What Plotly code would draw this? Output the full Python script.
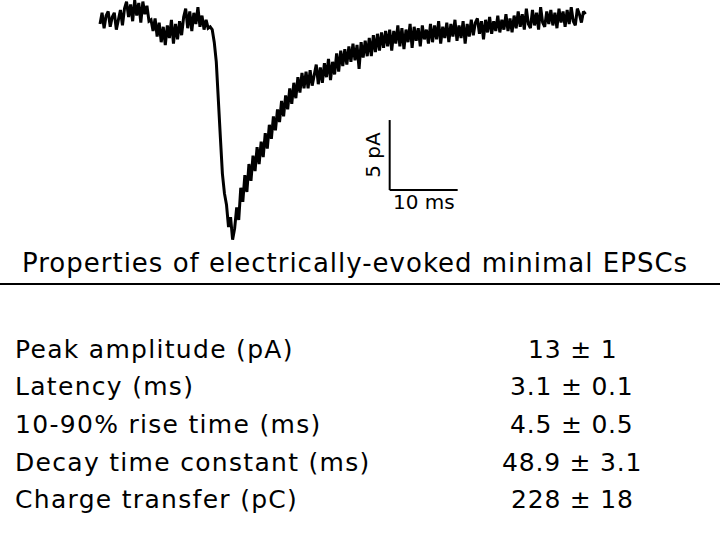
import numpy as np
import plotly.graph_objects as go

# ---------------- data ----------------
DT_MS = 0.3  # sampling interval of the trace (ms)
current_pA = [
    # baseline
    -0.5, 0.3, -0.8, 0.1, 0.4, -0.7, 0.0, 0.3,
    -0.9, -0.1, 0.5, -0.6, 0.6,
    1.1, 0.0, 0.9, -0.3, 1.2, 0.1, 1.0, -0.4, 1.1, 0.2, 0.8, -0.3,
    -0.2, -1.0, -0.1, -1.4, -0.4, -1.8, -0.7, -2.0, -0.6, -1.5, -0.2, -1.9, -0.5, -1.6, -0.3, -1.3,
    0.0, 0.6, -0.8, 0.4, -1.0, 0.3, -0.5, 0.7, -0.7, 0.1, -0.9, -0.2, -0.8, -0.7,
    # onset and peak
    -0.9, -1.8, -3.2, -5.5, -8.6, -11.2, -12.6, -13.4, -15.0, -14.3, -15.9, -15.1,
    -13.6, -14.5, -12.2, -13.2, -11.3, -12.5, -10.5, -11.7, -9.9, -11.0,
    -9.3, -10.5, -8.9, -10.0, -8.3, -9.4, -7.7, -8.7, -7.1, -8.1,
    -6.6, -7.5, -6.0, -7.1, -5.6, -6.6, -5.1, -6.2, -4.7, -5.8,
    -4.3, -5.4, -4.0, -5.1,
    # decay
    -3.9, -5.1, -3.8, -4.9, -4.1, -3.4, -4.8, -3.6, -4.7, -3.3, -4.3, -3.0, -4.5, -3.2, -4.1, -2.6, -3.9, -2.4, -3.5, -2.3,
    -3.4, -2.1, -3.2, -1.9, -3.1, -2.0, -3.7, -1.8, -2.9, -1.7, -2.8, -1.5, -2.8, -1.3, -2.5, -1.2, -2.4, -1.1, -2.2, -1.0,
    -2.1, -0.9, -2.4, -1.0, -1.9, -0.6, -2.1, -0.8, -2.3, -0.9, -1.8, -0.5, -2.2, -0.7, -1.7, -0.8, -2.1, -0.6, -1.6, -0.9,
    -1.9, -0.5, -1.8, -0.6, -1.6, -0.3, -1.9, -0.7, -1.5, -0.4, -1.8, -0.5, -1.4, -0.2, -1.7, -0.6, -1.5, -0.3, -1.9, -0.5,
    -1.4, -0.2, -1.3, -0.4, -0.1, -1.2, -0.3, -1.6, -0.2, -1.1, 0.0, -1.2, -0.3, -1.0, 0.1, -1.1, -0.2, -0.9, 0.2, -1.0,
    -0.1, -1.1, 0.1, -0.8, 0.4, -0.7, 0.2, -0.9, 0.6, -0.5, -0.8, 0.5, -0.6, 0.3, -0.9, 0.7, -0.4, -0.7, 0.4, -0.5,
    0.5, -0.6, 0.3, -0.8, 0.6, -0.4, 0.4, -0.7, 0.5, -0.5, 0.7, -0.3, -0.6, 0.6, 0.2, -0.4, 0.4, 0.2,
]
time_ms = np.arange(len(current_pA)) * DT_MS

scale_ms = 10
scale_pA = 5
scale_labels = ["5 pA", "10 ms"]

title = "Properties of electrically-evoked minimal EPSCs"
property_names = [
    "Peak amplitude (pA)",
    "Latency (ms)",
    "10-90% rise time (ms)",
    "Decay time constant (ms)",
    "Charge transfer (pC)",
]
property_values = ["13 ± 1", "3.1 ± 0.1", "4.5 ± 0.5", "48.9 ± 3.1", "228 ± 18"]

# ---------------- figure ----------------
W, H = 720, 536
FONT = "DejaVu Sans, Verdana, sans-serif"

# axis ranges: trace baseline near the top, 10 ms = 68 px, 5 pA = 70 px
x_range = [-14.71, 91.18]
y_range = [-37.07, 1.214]

fig = go.Figure()
fig.add_trace(go.Scatter(
    x=time_ms, y=current_pA, mode="lines",
    line=dict(color="black", width=3),
    hoverinfo="skip", showlegend=False,
))

# scale bar (anchored at its corner)
bar_t0 = 42.6
bar_i0 = -12.36
fig.add_shape(type="line", x0=bar_t0, x1=bar_t0, y0=bar_i0, y1=bar_i0 + scale_pA,
              line=dict(color="black", width=2))
fig.add_shape(type="line", x0=bar_t0, x1=bar_t0 + scale_ms, y0=bar_i0, y1=bar_i0,
              line=dict(color="black", width=2))
fig.add_annotation(x=bar_t0, y=bar_i0 + scale_pA / 2, text=scale_labels[0],
                   textangle=-90, showarrow=False, xanchor="right", xshift=-3,
                   font=dict(family=FONT, size=20, color="black"))
fig.add_annotation(x=bar_t0 + scale_ms / 2, y=bar_i0, text=scale_labels[1],
                   showarrow=False, yanchor="top", yshift=2,
                   font=dict(family=FONT, size=20, color="black"))


def px(x):
    return x / W


def py(y):
    return 1 - y / H


def spaced(s, sp):
    return '<span style="letter-spacing:%.1fpx">%s</span>' % (sp, s)


# title and rule
fig.add_annotation(xref="paper", yref="paper", x=px(355), y=py(262.5), text=spaced(title, 1.0),
                   showarrow=False, xanchor="center", yanchor="middle",
                   font=dict(family=FONT, size=26, color="black"))
fig.add_shape(type="line", xref="paper", yref="paper", x0=0, x1=1, y0=py(284), y1=py(284),
              line=dict(color="black", width=2))

# table rows
row_y0, row_dy = 349, 37.7
for k, (name, val) in enumerate(zip(property_names, property_values)):
    yy = py(row_y0 + k * row_dy)
    fig.add_annotation(xref="paper", yref="paper", x=px(13), y=yy, text=spaced(name, 1.3),
                       showarrow=False, xanchor="left", yanchor="middle",
                       font=dict(family=FONT, size=25, color="black"))
    fig.add_annotation(xref="paper", yref="paper", x=px(572), y=yy, text=spaced(val, 0.8),
                       showarrow=False, xanchor="center", yanchor="middle",
                       font=dict(family=FONT, size=25, color="black"))

fig.update_layout(
    width=W, height=H, margin=dict(l=0, r=0, t=0, b=0),
    paper_bgcolor="white", plot_bgcolor="white",
    xaxis=dict(range=x_range, visible=False, fixedrange=True),
    yaxis=dict(range=y_range, visible=False, fixedrange=True),
)

# remove the page's default body margin so the figure fills the window exactly
fig.write_html(
    "out.html",
    config={"displayModeBar": False, "staticPlot": True},
    post_script="document.body.style.margin='0';document.body.style.overflow='hidden';",
)
